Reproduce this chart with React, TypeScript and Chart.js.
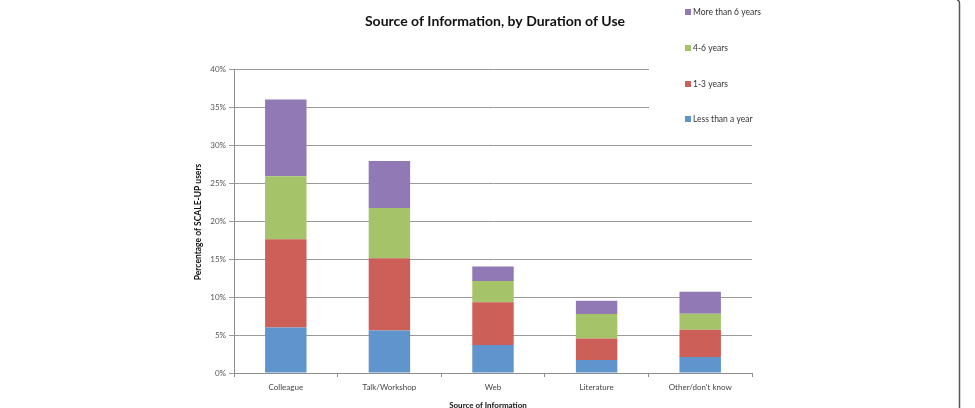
import React, { useEffect, useRef } from "react";
import { Chart, registerables } from "chart.js";

Chart.register(...registerables);

const categories = ["Colleague", "Talk/Workshop", "Web", "Literature", "Other/don't know"];
const lessThanYear = [6.0, 5.6, 3.7, 1.7, 2.1];
const oneToThree = [11.6, 9.5, 5.6, 2.85, 3.6];
const fourToSix = [8.3, 6.6, 2.8, 3.2, 2.1];
const moreThanSix = [10.1, 6.2, 1.9, 1.75, 2.9];
const seriesNames = ["Less than a year", "1-3 years", "4-6 years", "More than 6 years"];
const seriesColors = ["#5f94cc", "#cc6059", "#a5c46a", "#9079b4"];

const FONT = "Lato, 'Open Sans', 'DejaVu Sans', sans-serif";

// Title, axis titles, legend and frame line drawn directly on the canvas
const decorations = {
  id: "decorations",
  afterDraw(chart: any) {
    const { ctx, chartArea } = chart;
    const cx = (chartArea.left + chartArea.right) / 2;
    ctx.save();

    ctx.fillStyle = "#111";
    ctx.textAlign = "center";
    ctx.textBaseline = "middle";
    ctx.font = `bold 14px ${FONT}`;
    ctx.fillText("Source of Information, by Duration of Use", cx + 2, 21);

    ctx.font = `bold 8px ${FONT}`;
    ctx.fillText("Source of Information", cx - 5, 405);

    ctx.save();
    ctx.translate(198, (chartArea.top + chartArea.bottom) / 2 + 1);
    ctx.rotate(-Math.PI / 2);
    ctx.font = `bold 8.5px ${FONT}`;
    ctx.fillText("Percentage of SCALE-UP users", 0, 0);
    ctx.restore();

    // legend panel sits over the upper gridlines
    ctx.fillStyle = "#ffffff";
    ctx.fillRect(649, 60, 112, 72);

    const ys = [12, 48, 84, 119];
    ctx.font = `8.5px ${FONT}`;
    ctx.textAlign = "left";
    for (let i = 0; i < 4; i++) {
      const s = 3 - i;
      ctx.fillStyle = seriesColors[s];
      ctx.fillRect(685, ys[i] - 3, 6, 6);
      ctx.fillStyle = "#333";
      ctx.fillText(seriesNames[s], 693, ys[i] + 0.5);
    }

    // outer frame edge
    ctx.strokeStyle = "#555";
    ctx.lineWidth = 1.5;
    ctx.beginPath();
    ctx.moveTo(959.5, 4);
    ctx.lineTo(959.5, 408);
    ctx.stroke();
    ctx.beginPath();
    ctx.moveTo(959.5, 4);
    ctx.quadraticCurveTo(959.5, 0, 957, 0);
    ctx.stroke();

    ctx.restore();
  },
};

export default function App() {
  const ref = useRef<HTMLCanvasElement>(null);

  useEffect(() => {
    const values = [lessThanYear, oneToThree, fourToSix, moreThanSix];
    const chart = new Chart(ref.current!, {
      type: "bar",
      data: {
        labels: categories,
        datasets: values.map((v, i) => ({
          label: seriesNames[i],
          data: v,
          backgroundColor: seriesColors[i],
          borderWidth: 0,
          barPercentage: 0.4,
          categoryPercentage: 1,
        })),
      },
      options: {
        animation: false,
        responsive: false,
        devicePixelRatio: 1,
        layout: { padding: { left: 0, right: 223, top: 69, bottom: 0 } },
        plugins: {
          legend: { display: false },
          title: { display: false },
          tooltip: { enabled: false },
        },
        scales: {
          x: {
            stacked: true,
            afterFit: (s: any) => {
              s.height = 35;
            },
            grid: {
              offset: true,
              drawOnChartArea: false,
              drawTicks: true,
              tickLength: 4,
              color: "#8c8c8c",
            },
            border: { color: "#8c8c8c", width: 1 },
            ticks: {
              color: "#444",
              font: { family: FONT, size: 8 },
              padding: 6,
              maxRotation: 0,
            },
          },
          y: {
            stacked: true,
            min: 0,
            max: 40,
            afterFit: (s: any) => {
              s.width = 234;
            },
            grid: {
              color: "#9a9a9a",
              lineWidth: 1,
              drawTicks: true,
              tickLength: 5,
            },
            border: { color: "#8c8c8c", width: 1 },
            ticks: {
              stepSize: 5,
              color: "#555",
              font: { family: FONT, size: 8 },
              padding: 3,
              callback: (v: any) => `${v}%`,
            },
          },
        },
      },
      plugins: [decorations],
    });
    return () => chart.destroy();
  }, []);

  return (
    <div style={{ position: "absolute", left: 0, top: 0, width: 975, height: 408, background: "#fff" }}>
      <canvas ref={ref} width={975} height={408} style={{ display: "block" }} />
    </div>
  );
}
